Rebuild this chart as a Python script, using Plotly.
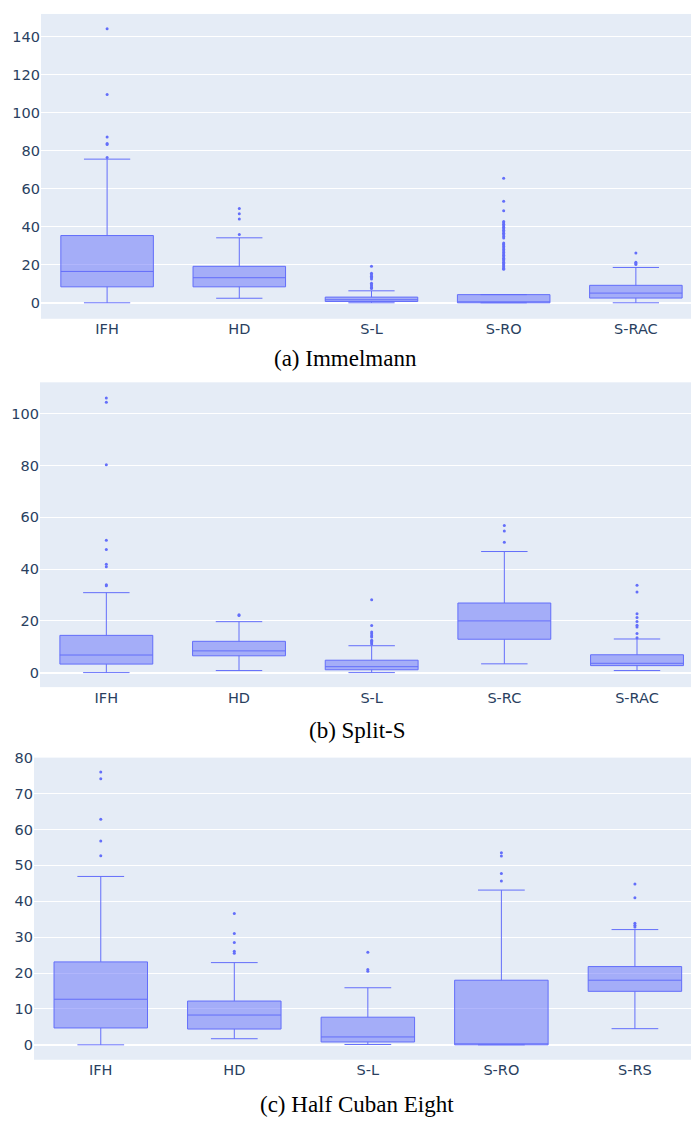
import plotly.graph_objects as go

# ---------------- data ----------------
cats_a = ["IFH", "HD", "S-L", "S-RO", "S-RAC"]
q1_a = [8.4, 8.4, 0.7, 0.0, 2.5]
med_a = [16.5, 13.2, 1.6, 0.0, 5.1]
q3_a = [35.4, 19.2, 3.0, 4.3, 9.2]
lo_a = [0.0, 2.4, 0.0, 0.0, 0.0]
hi_a = [75.6, 34.2, 6.3, 4.3, 18.6]
out_a = {
    "IFH": [144.2, 109.6, 87.3, 83.8, 83.3, 76.5],
    "HD": [49.6, 46.9, 44.1, 36.0],
    "S-L": [19.3, 15.5, 14.8, 14.0, 13.3, 12.5, 10.3, 9.5, 8.8, 8.0, 7.5],
    "S-RO": [17.6, 18.2, 18.8, 19.4, 20.0, 20.7, 21.4, 22.1, 22.8, 23.5, 24.2,
             25.0, 25.7, 26.5, 27.3, 28.0, 28.8, 29.6, 30.4, 31.0, 31.5,
             34.1, 34.9, 35.8, 36.6, 37.4, 38.2, 39.0, 39.8, 40.6, 41.4, 42.1, 42.8,
             48.4, 53.5, 65.5],
    "S-RAC": [26.2, 21.3, 20.7, 20.1],
}

cats_b = ["IFH", "HD", "S-L", "S-RC", "S-RAC"]
q1_b = [3.3, 6.5, 1.1, 12.9, 2.7]
med_b = [6.8, 8.4, 2.3, 20.0, 3.6]
q3_b = [14.4, 12.1, 4.8, 26.9, 6.9]
lo_b = [0.0, 0.8, 0.0, 3.4, 0.8]
hi_b = [30.9, 19.7, 10.4, 46.8, 13.0]
out_b = {
    "IFH": [106.1, 104.5, 80.3, 51.2, 47.6, 41.9, 40.9, 34.0, 33.6],
    "HD": [22.1, 22.4],
    "S-L": [28.2, 18.2, 15.7, 15.0, 14.3, 13.8, 12.5, 12.0, 11.5, 11.1],
    "S-RC": [56.9, 54.7, 50.4],
    "S-RAC": [33.8, 31.2, 22.8, 21.3, 19.8, 18.3, 17.6, 15.1, 13.5],
}

cats_c = ["IFH", "HD", "S-L", "S-RO", "S-RS"]
q1_c = [4.7, 4.4, 0.8, 0.0, 14.9]
med_c = [12.7, 8.3, 2.2, 0.0, 18.0]
q3_c = [23.1, 12.2, 7.7, 18.0, 21.8]
lo_c = [0.0, 1.7, 0.1, 0.0, 4.5]
hi_c = [46.9, 22.9, 15.9, 43.1, 32.1]
out_c = {
    "IFH": [76.0, 74.1, 62.8, 56.8, 52.7],
    "HD": [36.6, 31.0, 28.5, 26.1, 25.5],
    "S-L": [25.8, 21.0, 20.5],
    "S-RO": [53.5, 52.6, 47.7, 45.6],
    "S-RS": [44.8, 41.0, 33.9, 33.3, 32.8],
}

captions = ["(a) Immelmann", "(b) Split-S", "(c) Half Cuban Eight"]
y_ranges = [[-8.4, 152], [-5.6, 112.2], [-4.15, 80]]
y_dticks = [20, 20, 10]
x_ranges = [[-0.5, 4.417], [-0.5, 4.407], [-0.5, 4.42]]

# ---------------- layout geometry ----------------
W, H = 691, 1121
x_doms = [[41 / W, 1], [40 / W, 1], [34 / W, 1]]
y_doms = [[1 - 313 / H, 1 - 6 / H], [1 - 684 / H, 1 - 377 / H], [1 - 1059.3 / H, 1 - 755 / H]]
cap_pos = [(345 / W, 1 - 353 / H), (357 / W, 1 - 728 / H), (357 / W, 1 - 1104 / H)]

COLOR = "#636efa"
TICKFONT = dict(family="DejaVu Sans, Verdana, sans-serif", size=14.5, color="#2a3f5f")

panels = [
    (cats_a, q1_a, med_a, q3_a, lo_a, hi_a, out_a),
    (cats_b, q1_b, med_b, q3_b, lo_b, hi_b, out_b),
    (cats_c, q1_c, med_c, q3_c, lo_c, hi_c, out_c),
]

fig = go.Figure()
layout = dict(
    width=W, height=H,
    margin=dict(l=0, r=0, t=0, b=0),
    template="plotly",
    showlegend=False,
    font=TICKFONT,
    annotations=[],
)

for i, (cats, q1, med, q3, lo, hi, outs) in enumerate(panels):
    xa = "x" if i == 0 else f"x{i+1}"
    ya = "y" if i == 0 else f"y{i+1}"
    fig.add_trace(go.Box(
        x=cats, q1=q1, median=med, q3=q3, lowerfence=lo, upperfence=hi,
        boxpoints=False, line=dict(color=COLOR, width=1),
        fillcolor="rgba(99,110,250,0.5)", whiskerwidth=0.5, width=0.7,
        xaxis=xa, yaxis=ya, hoverinfo="skip",
    ))
    ox, oy = [], []
    for c in cats:
        for v in outs.get(c, []):
            ox.append(c)
            oy.append(v)
    fig.add_trace(go.Scatter(
        x=ox, y=oy, mode="markers",
        marker=dict(color=COLOR, size=3),
        xaxis=xa, yaxis=ya, hoverinfo="skip",
    ))
    kx = "xaxis" if i == 0 else f"xaxis{i+1}"
    ky = "yaxis" if i == 0 else f"yaxis{i+1}"
    layout[kx] = dict(domain=x_doms[i], anchor=ya, type="category",
                      categoryorder="array", categoryarray=cats,
                      range=x_ranges[i], showgrid=False, tickfont=TICKFONT)
    layout[ky] = dict(domain=y_doms[i], anchor=xa, range=y_ranges[i],
                      dtick=y_dticks[i], tick0=0, tickfont=TICKFONT,
                      gridcolor="white", zeroline=True, zerolinecolor="white",
                      zerolinewidth=1.5)
    layout["annotations"].append(dict(
        text=captions[i], xref="paper", yref="paper",
        x=cap_pos[i][0], y=cap_pos[i][1], xanchor="center", yanchor="middle",
        showarrow=False, font=dict(family="Liberation Serif, serif", size=23, color="black"),
    ))

fig.update_layout(**layout)
fig.write_html("out.html", config={"displayModeBar": False},
               post_script="document.body.style.margin='0';")
